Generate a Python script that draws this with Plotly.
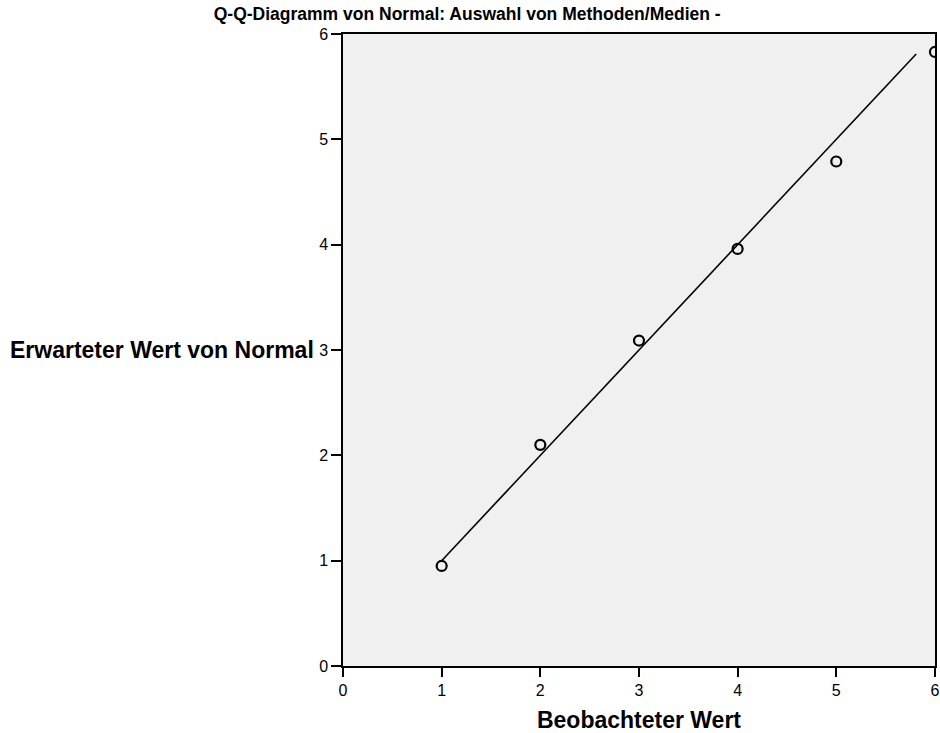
import plotly.graph_objects as go

observed = [1, 2, 3, 4, 5, 6]
expected = [0.95, 2.10, 3.09, 3.96, 4.79, 5.83]
line_x = [1.0, 5.81]
line_y = [1.0, 5.81]
ticks = [0, 1, 2, 3, 4, 5, 6]

FONT = "Liberation Sans, Arial, sans-serif"

fig = go.Figure()
fig.add_trace(go.Scatter(x=line_x, y=line_y, mode="lines",
                         line=dict(color="black", width=1.6), showlegend=False))
fig.add_trace(go.Scatter(x=observed, y=expected, mode="markers",
                         marker=dict(symbol="circle-open", size=10,
                                     color="black", line=dict(width=2.2, color="black")),
                         showlegend=False))

axis_common = dict(range=[0, 6.0005], tickvals=ticks, ticks="outside", tickwidth=1.5,
                   tickcolor="black", showgrid=False, zeroline=False, automargin=False,
                   showline=True, linecolor="black", linewidth=1.5, mirror=True,
                   tickfont=dict(size=16, family=FONT, color="black"))

fig.update_layout(
    width=940, height=733,
    margin=dict(l=343, r=5, t=34, b=67),
    plot_bgcolor="#F0F0F0", paper_bgcolor="white",
    font=dict(family=FONT, color="black"),
    title=dict(text="<b>Q-Q-Diagramm von Normal: Auswahl von Methoden/Medien -</b>",
               xref="container", x=0.497, xanchor="center",
               yref="container", y=0.981, yanchor="middle",
               font=dict(size=17.5, family=FONT, color="black")),
    xaxis=dict(axis_common, ticklen=9,
               title=dict(text="<b>Beobachteter Wert</b>", font=dict(size=23, family=FONT),
                          standoff=15)),
    yaxis=dict(axis_common, ticklen=10),
)
fig.add_annotation(text="<b>Erwarteter Wert von Normal</b>", xref="paper", yref="paper",
                   x=0, y=0.5, xanchor="right", yanchor="middle", xshift=-27,
                   showarrow=False, font=dict(size=23, family=FONT, color="black"))

fig.write_html("out.html", config={"displayModeBar": False})

with open("out.html", "r", encoding="utf-8") as f:
    html = f.read()
html = html.replace("<head>", "<head><style>html,body{margin:0;padding:0;}</style>", 1)
with open("out.html", "w", encoding="utf-8") as f:
    f.write(html)
